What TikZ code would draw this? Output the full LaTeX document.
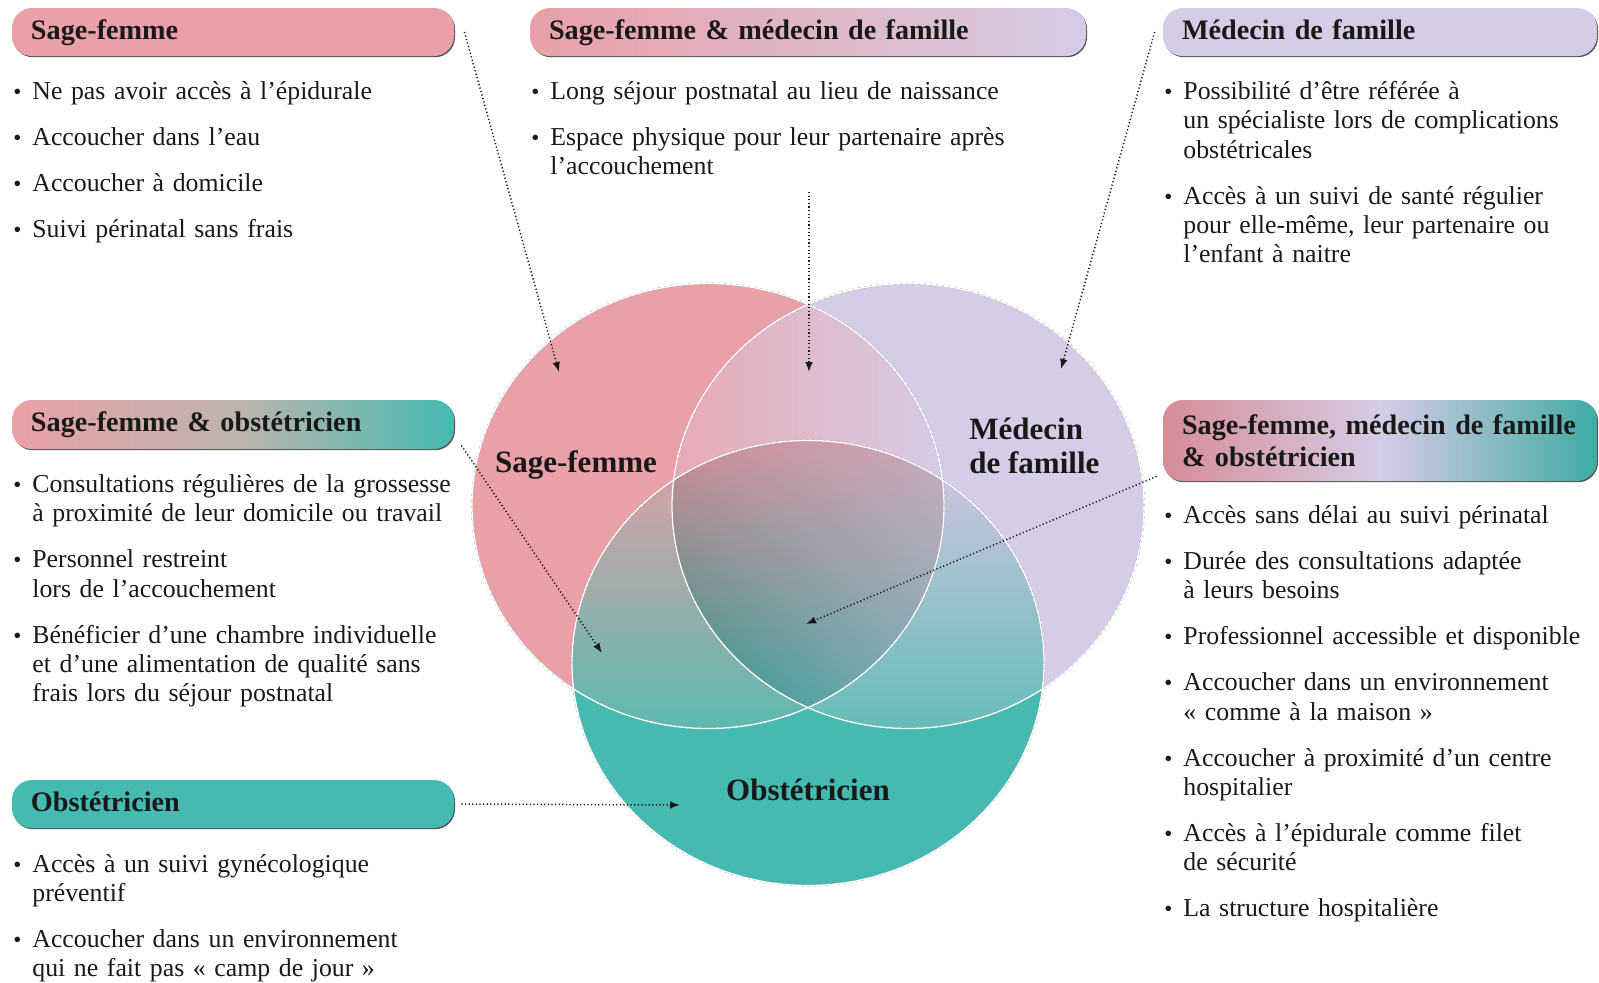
\documentclass[tikz,border=0pt]{standalone}
\usepackage{fontspec}
\setmainfont{Liberation Serif}
\usetikzlibrary{arrows.meta,shadows,fadings}
\definecolor{pinkc}{RGB}{233,160,167}
\definecolor{lavc}{RGB}{214,204,230}
\definecolor{tealc}{RGB}{69,186,177}
\definecolor{inkc}{RGB}{25,25,25}
\definecolor{pplens}{RGB}{231,170,180}
\definecolor{ptop}{RGB}{214,162,166}
\definecolor{pbot}{RGB}{92,186,176}
\definecolor{vtop}{RGB}{205,196,222}
\definecolor{vbot}{RGB}{100,189,183}
\definecolor{ctop}{RGB}{210,140,150}
\definecolor{cbot}{RGB}{40,150,140}
\definecolor{cside}{RGB}{196,196,222}
\definecolor{sfomid}{RGB}{190,180,172}
\definecolor{sfmfoleft}{RGB}{214,140,150}
\newcommand\bul[1]{\hangindent=9.5pt\hangafter=1\noindent\makebox[9.5pt][l]{\fontsize{11.5}{11.5}\selectfont•}#1\par}
\newcommand\gap{\vspace{8.35pt}}
\begin{document}
\begin{tikzpicture}[x=0.5pt,y=-0.5pt,
 ell/.style={x radius=118pt,y radius=111.25pt},
 hdr/.style={rounded corners=10pt, inner xsep=9.5pt, inner ysep=0pt, align=left,
   font=\fontsize{14.1}{16}\selectfont\bfseries, text=inkc,
   drop shadow={shadow xshift=0.5pt,shadow yshift=-0.6pt,fill=black!75,opacity=0.9}},
 hdrone/.style={hdr, text height=10pt, text depth=3pt, minimum height=24pt},
 lst/.style={anchor=base west, inner sep=0pt, text width=300pt, align=left,
   font=\fontsize{12.9}{14.65}\selectfont, text=inkc},
 clab/.style={font=\fontsize{15.5}{17}\selectfont\bfseries, text=inkc, inner sep=0pt},
 conn/.style={draw=black!90, line width=0.75pt, dash pattern=on 0.6pt off 1.2pt,
   -{Latex[length=5pt,width=3.8pt]}},
 rim/.style={draw=black!45, line width=0.9pt, dash pattern=on 1.2pt off 1.8pt},
 wrim/.style={draw=white, line width=0.65pt}
]
\useasboundingbox (0,0) rectangle (1599,982);

% ---- circles ----
\coordinate (cA) at (708,506);
\coordinate (cB) at (908,506);
\coordinate (cC) at (808,663);
\fill[pinkc] (cA) ellipse [ell];
\fill[lavc] (cB) ellipse [ell];
\fill[tealc] (cC) ellipse [ell];
\begin{scope}
 \clip (cA) ellipse [ell];
 \clip (cB) ellipse [ell];
 \shade[left color=pplens, right color=lavc] (672,280) rectangle (944,730);
\end{scope}
\begin{scope}
 \clip (cA) ellipse [ell];
 \clip (cC) ellipse [ell];
 \shade[top color=ptop, bottom color=pbot] (565,470) rectangle (944,730);
\end{scope}
\begin{scope}
 \clip (cB) ellipse [ell];
 \clip (cC) ellipse [ell];
 \shade[top color=vtop, bottom color=vbot] (672,470) rectangle (1050,730);
\end{scope}
\begin{scope}
 \clip (cA) ellipse [ell];
 \clip (cB) ellipse [ell];
 \clip (cC) ellipse [ell];
 \shade[top color=ctop, bottom color=cbot] (672,440) rectangle (944,712);
 \fill[cside, fill opacity=0.55, path fading=west] (672,440) rectangle (944,712);
\end{scope}
\draw[rim] (cA) ellipse [ell];
\draw[rim] (cB) ellipse [ell];
\draw[rim] (cC) ellipse [ell];
\draw[wrim] (cA) ellipse [ell];
\draw[wrim] (cB) ellipse [ell];
\draw[wrim] (cC) ellipse [ell];

\node[clab] (lblSF) at (576,465) {Sage-femme};
\node[clab, align=left, anchor=west] (lblMF) at (969,446) {Médecin\\de famille};
\node[clab] (lblO) at (808,790) {Obstétricien};

% ---- headers ----
\node[hdrone, fill=pinkc, text width=202pt] (hSF) at (233,32) {Sage-femme};
\node[hdrone, left color=pinkc, right color=lavc, text width=259pt] (hSFMF) at (808,32) {Sage-femme \& médecin de famille};
\node[hdrone, fill=lavc, text width=198pt] (hMF) at (1380,32) {Médecin de famille};
\node[hdrone, left color=pinkc, right color=tealc, middle color=sfomid, text width=202pt, minimum height=24.5pt] (hSFO) at (233,424.5) {Sage-femme \& obstétricien};
\node[hdr, left color=sfmfoleft, right color=tealc!92!black, middle color=lavc, text width=198pt, minimum height=40.5pt] (hSFMFO) at (1380,440.5) {\mbox{Sage-femme, médecin de famille}\\\mbox{\& obstétricien}};
\node[hdrone, fill=tealc, text width=202pt] (hO) at (233,804) {Obstétricien};

% ---- lists ----
\node[lst] (lSF) at (13,99.5) {%
\bul{Ne pas avoir accès à l’épidurale}\gap
\bul{Accoucher dans l’eau}\gap
\bul{Accoucher à domicile}\gap
\bul{Suivi périnatal sans frais}};

\node[lst] (lSFMF) at (531,99.5) {%
\bul{Long séjour postnatal au lieu de naissance}\gap
\bul{Espace physique pour leur partenaire après\newline l’accouchement}};

\node[lst] (lMF) at (1164,99.5) {%
\bul{Possibilité d’être référée à\newline un spécialiste lors de complications\newline obstétricales}\gap
\bul{Accès à un suivi de santé régulier\newline pour elle-même, leur partenaire ou\newline l’enfant à naitre}};

\node[lst] (lSFO) at (13,492.5) {%
\bul{Consultations régulières de la grossesse\newline à proximité de leur domicile ou travail}\gap
\bul{Personnel restreint\newline lors de l’accouchement}\gap
\bul{Bénéficier d’une chambre individuelle\newline et d’une alimentation de qualité sans\newline frais lors du séjour postnatal}};

\node[lst] (lO) at (13,872) {%
\bul{Accès à un suivi gynécologique\newline préventif}\gap
\bul{Accoucher dans un environnement\newline qui ne fait pas «~camp de jour~»}};

\node[lst] (lSFMFO) at (1164,523.5) {%
\bul{Accès sans délai au suivi périnatal}\gap
\bul{Durée des consultations adaptée\newline à leurs besoins}\gap
\bul{Professionnel accessible et disponible}\gap
\bul{Accoucher dans un environnement\newline «~comme à la maison~»}\gap
\bul{Accoucher à proximité d’un centre\newline hospitalier}\gap
\bul{Accès à l’épidurale comme filet\newline de sécurité}\gap
\bul{La structure hospitalière}};

% ---- connectors ----
\coordinate (t1) at (559,372);
\coordinate (s2) at (809,192);
\coordinate (t2) at (809,372);
\coordinate (t3) at (1061,369);
\coordinate (t4) at (602,653);
\coordinate (t5) at (806,624);
\coordinate (t6) at (680,805);
\draw[conn] ([xshift=5pt]hSF.east) -- (t1);
\draw[conn] (s2) -- (t2);
\draw[conn] ([xshift=-4pt]hMF.west) -- (t3);
\draw[conn] ([xshift=3.5pt,yshift=2pt]hSFO.south east) -- (t4);
\draw[conn] ([xshift=-3pt,yshift=2.5pt]hSFMFO.south west) -- (t5);
\draw[conn] ([xshift=3.5pt]hO.east) -- (t6);
\end{tikzpicture}
\end{document}
